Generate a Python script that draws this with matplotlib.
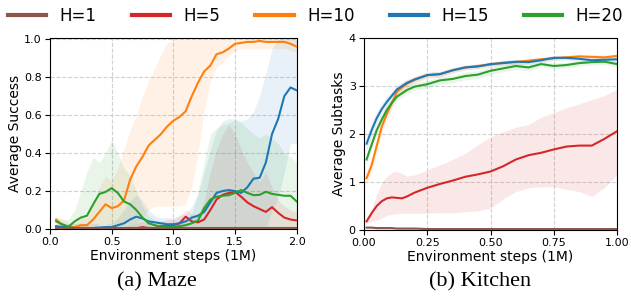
import matplotlib
matplotlib.use("Agg")
import matplotlib.pyplot as plt
import numpy as np

# ---------------- data ----------------
labels = ["H=1", "H=5", "H=10", "H=15", "H=20"]
colors = ["#8c564b", "#d62728", "#ff7f0e", "#1f77b4", "#2ca02c"]

maze_x = [0.05, 0.10, 0.15, 0.20, 0.25, 0.30, 0.35, 0.40, 0.45, 0.50,
          0.55, 0.60, 0.65, 0.70, 0.75, 0.80, 0.85, 0.90, 0.95, 1.00,
          1.05, 1.10, 1.15, 1.20, 1.25, 1.30, 1.35, 1.40, 1.45, 1.50,
          1.55, 1.60, 1.65, 1.70, 1.75, 1.80, 1.85, 1.90, 1.95, 2.00]

maze_h1 = [0.003] * 40
maze_h1_lo = [0.0] * 40
maze_h1_hi = [0.006] * 40

maze_h5 = [0.010, 0.005, 0.003, 0.003, 0.003, 0.003, 0.003, 0.003, 0.003, 0.003,
           0.003, 0.003, 0.003, 0.004, 0.010, 0.005, 0.005, 0.015, 0.015, 0.020,
           0.030, 0.065, 0.040, 0.035, 0.050, 0.100, 0.155, 0.180, 0.190, 0.195,
           0.170, 0.140, 0.120, 0.105, 0.090, 0.115, 0.085, 0.060, 0.050, 0.045]
maze_h5_lo = [0.0] * 40
maze_h5_hi = [0.02, 0.01, 0.01, 0.01, 0.01, 0.01, 0.01, 0.01, 0.01, 0.01,
              0.01, 0.01, 0.02, 0.03, 0.04, 0.03, 0.03, 0.04, 0.05, 0.05,
              0.07, 0.10, 0.08, 0.07, 0.15, 0.30, 0.42, 0.50, 0.55, 0.50,
              0.42, 0.35, 0.30, 0.25, 0.30, 0.22, 0.15, 0.12, 0.10, 0.09]

maze_h10 = [0.050, 0.020, 0.010, 0.010, 0.020, 0.020, 0.050, 0.090, 0.130, 0.110,
            0.120, 0.150, 0.260, 0.330, 0.380, 0.440, 0.470, 0.500, 0.540, 0.570,
            0.590, 0.620, 0.700, 0.770, 0.830, 0.860, 0.920, 0.930, 0.950, 0.975,
            0.980, 0.985, 0.985, 0.990, 0.985, 0.985, 0.985, 0.985, 0.975, 0.960]
maze_h10_lo = [0.03, 0.0, 0.0, 0.0, 0.0, 0.0, 0.0, 0.0, 0.0, 0.0,
               0.0, 0.0, 0.01, 0.03, 0.06, 0.10, 0.12, 0.12, 0.12, 0.12,
               0.12, 0.13, 0.22, 0.40, 0.62, 0.78, 0.85, 0.88, 0.91, 0.94,
               0.95, 0.95, 0.95, 0.95, 0.95, 0.95, 0.95, 0.95, 0.94, 0.93]
maze_h10_hi = [0.07, 0.05, 0.03, 0.03, 0.05, 0.06, 0.12, 0.22, 0.28, 0.25,
               0.32, 0.42, 0.52, 0.60, 0.70, 0.78, 0.85, 0.92, 0.98, 1.0,
               1.0, 1.0, 1.0, 1.0, 1.0, 1.0, 1.0, 1.0, 1.0, 1.0,
               1.0, 1.0, 1.0, 1.0, 1.0, 1.0, 1.0, 1.0, 1.0, 1.0]

maze_h15 = [0.015, 0.010, 0.010, 0.005, 0.005, 0.005, 0.005, 0.008, 0.010, 0.010,
            0.020, 0.030, 0.050, 0.065, 0.055, 0.040, 0.035, 0.030, 0.025, 0.025,
            0.030, 0.040, 0.060, 0.070, 0.090, 0.140, 0.190, 0.200, 0.205, 0.200,
            0.190, 0.220, 0.265, 0.270, 0.350, 0.500, 0.580, 0.700, 0.745, 0.730]
maze_h15_lo = [0.0] * 35 + [0.10, 0.16, 0.30, 0.45, 0.45]
maze_h15_hi = [0.03, 0.03, 0.03, 0.03, 0.03, 0.03, 0.03, 0.03, 0.03, 0.03,
               0.06, 0.10, 0.15, 0.18, 0.15, 0.10, 0.07, 0.06, 0.06, 0.06,
               0.07, 0.08, 0.12, 0.18, 0.30, 0.42, 0.52, 0.57, 0.58, 0.58,
               0.57, 0.58, 0.62, 0.70, 0.82, 0.95, 1.0, 1.0, 1.0, 1.0]

maze_h20 = [0.040, 0.025, 0.012, 0.040, 0.060, 0.070, 0.130, 0.185, 0.195, 0.215,
            0.190, 0.145, 0.130, 0.100, 0.060, 0.030, 0.020, 0.012, 0.010, 0.012,
            0.015, 0.020, 0.030, 0.045, 0.110, 0.155, 0.170, 0.175, 0.178, 0.190,
            0.205, 0.190, 0.178, 0.180, 0.196, 0.185, 0.180, 0.175, 0.175, 0.145]
maze_h20_lo = [0.02, 0.0, 0.0, 0.0, 0.0, 0.0, 0.0, 0.03, 0.03, 0.0,
               0.0, 0.0, 0.0, 0.0, 0.0, 0.0, 0.0, 0.0, 0.0, 0.0,
               0.0, 0.0, 0.0, 0.0, 0.0, 0.0, 0.0, 0.0, 0.0, 0.0,
               0.0, 0.0, 0.0, 0.0, 0.0, 0.0, 0.0, 0.0, 0.0, 0.0]
maze_h20_hi = [0.06, 0.05, 0.05, 0.10, 0.20, 0.30, 0.38, 0.35, 0.40, 0.47,
               0.40, 0.32, 0.28, 0.20, 0.12, 0.07, 0.05, 0.04, 0.03, 0.03,
               0.04, 0.05, 0.08, 0.20, 0.35, 0.50, 0.53, 0.55, 0.56, 0.57,
               0.56, 0.53, 0.50, 0.48, 0.50, 0.48, 0.45, 0.40, 0.38, 0.35]

kit_x = [0.01, 0.03, 0.05, 0.07, 0.09, 0.11, 0.13, 0.15, 0.17, 0.20,
         0.25, 0.30, 0.35, 0.40, 0.45, 0.50, 0.55, 0.60, 0.65, 0.70,
         0.75, 0.80, 0.85, 0.90, 0.95, 1.00]

kit_h1 = [0.05, 0.05, 0.04, 0.04, 0.04, 0.04, 0.03, 0.03, 0.03, 0.03,
          0.02, 0.02, 0.02, 0.02, 0.02, 0.02, 0.02, 0.02, 0.02, 0.02,
          0.02, 0.02, 0.02, 0.02, 0.02, 0.02]
kit_h1_sd = [0.02] * 26

kit_h5 = [0.18, 0.35, 0.50, 0.60, 0.66, 0.68, 0.67, 0.66, 0.70, 0.78,
          0.88, 0.96, 1.03, 1.11, 1.16, 1.22, 1.33, 1.47, 1.56, 1.61,
          1.68, 1.74, 1.76, 1.76, 1.90, 2.06]
kit_h5_lo = [0.15, 0.18, 0.20, 0.25, 0.30, 0.33, 0.34, 0.35, 0.35, 0.35,
             0.35, 0.36, 0.36, 0.38, 0.40, 0.45, 0.65, 0.80, 0.88, 0.90,
             0.90, 0.85, 0.80, 0.70, 0.88, 1.15]
kit_h5_hi = [0.20, 0.45, 0.75, 0.98, 1.12, 1.20, 1.22, 1.18, 1.12, 1.15,
             1.25, 1.36, 1.47, 1.60, 1.78, 1.94, 2.05, 2.14, 2.20, 2.35,
             2.45, 2.55, 2.63, 2.72, 2.80, 2.94]

kit_h10 = [1.08, 1.35, 1.75, 2.15, 2.42, 2.65, 2.88, 2.97, 3.05, 3.13,
           3.23, 3.25, 3.33, 3.39, 3.42, 3.45, 3.49, 3.50, 3.53, 3.56,
           3.58, 3.60, 3.62, 3.61, 3.60, 3.63]
kit_h10_sd = [0.12, 0.15, 0.15, 0.15, 0.14, 0.12, 0.10, 0.09, 0.08, 0.07,
              0.06, 0.06, 0.06, 0.05, 0.05, 0.05, 0.05, 0.05, 0.05, 0.05,
              0.05, 0.05, 0.05, 0.05, 0.05, 0.05]

kit_h15 = [1.80, 2.08, 2.33, 2.52, 2.67, 2.80, 2.93, 3.00, 3.07, 3.14,
           3.23, 3.25, 3.33, 3.39, 3.41, 3.46, 3.48, 3.51, 3.50, 3.54,
           3.59, 3.59, 3.57, 3.54, 3.55, 3.56]
kit_h15_sd = [0.15, 0.15, 0.14, 0.13, 0.12, 0.10, 0.09, 0.08, 0.07, 0.06,
              0.06, 0.06, 0.05, 0.05, 0.05, 0.05, 0.05, 0.05, 0.05, 0.05,
              0.05, 0.05, 0.05, 0.05, 0.05, 0.05]

kit_h20 = [1.47, 1.78, 2.08, 2.30, 2.50, 2.65, 2.78, 2.85, 2.92, 2.99,
           3.04, 3.12, 3.15, 3.21, 3.24, 3.32, 3.37, 3.42, 3.39, 3.46,
           3.42, 3.44, 3.48, 3.50, 3.51, 3.46]
kit_h20_sd = [0.10, 0.10, 0.10, 0.10, 0.10, 0.09, 0.08, 0.08, 0.08, 0.08,
              0.08, 0.08, 0.08, 0.08, 0.08, 0.08, 0.07, 0.07, 0.07, 0.06,
              0.06, 0.06, 0.06, 0.06, 0.06, 0.06]

# ---------------- figure ----------------
plt.rcParams["font.family"] = ["DejaVu Sans"]
fig = plt.figure(figsize=(6.31, 3.04), dpi=100)
ax1 = fig.add_axes([0.0792, 0.2467, 0.391, 0.628])
ax2 = fig.add_axes([0.5769, 0.2434, 0.401, 0.631])

maze = [(maze_h1, maze_h1_lo, maze_h1_hi),
        (maze_h5, maze_h5_lo, maze_h5_hi),
        (maze_h10, maze_h10_lo, maze_h10_hi),
        (maze_h15, maze_h15_lo, maze_h15_hi),
        (maze_h20, maze_h20_lo, maze_h20_hi)]

mx = np.array(maze_x)
for (m, lo, hi), c in zip(maze, colors):
    ax1.fill_between(mx, lo, hi, color=c, alpha=0.1, linewidth=0)
for (m, lo, hi), c, lab in zip(maze, colors, labels):
    z = 5 if lab == "H=1" else 3
    ax1.plot(mx, m, color=c, lw=1.5, label=lab, zorder=z)

kx = np.array(kit_x)
kit_bands = [
    (kit_h1, np.array(kit_h1) - np.array(kit_h1_sd), np.array(kit_h1) + np.array(kit_h1_sd)),
    (kit_h5, kit_h5_lo, kit_h5_hi),
    (kit_h10, np.array(kit_h10) - np.array(kit_h10_sd), np.array(kit_h10) + np.array(kit_h10_sd)),
    (kit_h15, np.array(kit_h15) - np.array(kit_h15_sd), np.array(kit_h15) + np.array(kit_h15_sd)),
    (kit_h20, np.array(kit_h20) - np.array(kit_h20_sd), np.array(kit_h20) + np.array(kit_h20_sd)),
]
for (m, lo, hi), c in zip(kit_bands, colors):
    ax2.fill_between(kx, lo, hi, color=c, alpha=0.1, linewidth=0)
for (m, lo, hi), c in zip(kit_bands, colors):
    ax2.plot(kx, m, color=c, lw=1.5, zorder=3)

for ax in (ax1, ax2):
    ax.grid(True, linestyle="--", color="#d0d0d0", linewidth=0.8)
    ax.set_axisbelow(True)
    ax.tick_params(labelsize=8, length=3.5, pad=2.5)
    ax.set_xlabel("Environment steps (1M)", fontsize=10, labelpad=1)

ax1.set_xlim(0, 2.0)
ax1.set_ylim(0, 1.005)
ax1.set_xticks([0.0, 0.5, 1.0, 1.5, 2.0])
ax1.set_yticks([0.0, 0.2, 0.4, 0.6, 0.8, 1.0])
ax1.set_ylabel("Average Success", fontsize=10, labelpad=1.5)

ax2.set_xlim(0, 1.0)
ax2.set_ylim(0, 4)
ax2.set_xticks([0.0, 0.25, 0.5, 0.75, 1.0])
ax2.set_xticklabels(["0.00", "0.25", "0.50", "0.75", "1.00"])
ax2.set_yticks([0, 1, 2, 3, 4])
ax2.set_ylabel("Average Subtasks", fontsize=10, labelpad=1.5)

leg_handles = [plt.Line2D([0], [0], color=c, lw=3) for c in colors]
fig.legend(leg_handles, labels, loc="center", bbox_to_anchor=(0.5, 0.948),
           ncol=5, frameon=False, fontsize=12, handlelength=2.3,
           handletextpad=0.8, columnspacing=2.1, borderaxespad=0)

fig.text(0.249, 0.072, "(a) Maze", fontsize=16, family="Liberation Serif",
         ha="center", va="center")
fig.text(0.761, 0.072, "(b) Kitchen", fontsize=16, family="Liberation Serif",
         ha="center", va="center")

fig.savefig("out.png", dpi=100)
